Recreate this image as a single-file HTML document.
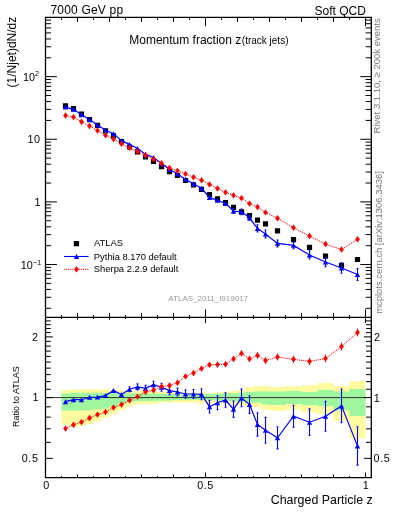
<!DOCTYPE html>
<html><head><meta charset="utf-8"><style>
html,body{margin:0;padding:0;background:#fff;}
svg{display:block;font-family:"Liberation Sans",sans-serif;}
</style></head><body>
<svg width="393" height="512" viewBox="0 0 393 512">
<rect width="393" height="512" fill="#fff"/>
<path d="M61.5 390.2L69.5 390.2L69.5 389.2L77.5 389.2L77.5 389.2L85.5 389.2L85.5 389.2L93.5 389.2L93.5 389.4L101.5 389.4L101.5 389.6L109.5 389.6L109.5 389.8L117.5 389.8L117.5 390.2L125.5 390.2L125.5 390.6L133.5 390.6L133.5 391L141.5 391L141.5 391L149.5 391L149.5 391.5L157.5 391.5L157.5 391.8L165.5 391.8L165.5 392.1L173.5 392.1L173.5 392.5L181.5 392.5L181.5 392.6L189.5 392.6L189.5 392.4L197.5 392.4L197.5 392.2L205.5 392.2L205.5 393L213.5 393L213.5 392.5L221.5 392.5L221.5 391.8L229.5 391.8L229.5 391L237.5 391L237.5 390L245.5 390L245.5 387L253.5 387L253.5 386.2L261.5 386.2L261.5 385.7L269.5 385.7L269.5 387L285.5 387L285.5 386.2L301.5 386.2L301.5 385.3L317.5 385.3L317.5 383L333.5 383L333.5 386L349.5 386L349.5 381.2L365.5 381.2L365.5 438.2L349.5 438.2L349.5 421L333.5 421L333.5 414.2L317.5 414.2L317.5 412.4L301.5 412.4L301.5 409.7L285.5 409.7L285.5 411.1L269.5 411.1L269.5 409.7L261.5 409.7L261.5 407.3L253.5 407.3L253.5 406.5L245.5 406.5L245.5 404.9L237.5 404.9L237.5 404.3L229.5 404.3L229.5 403.8L221.5 403.8L221.5 403.3L213.5 403.3L213.5 402.8L205.5 402.8L205.5 403.5L197.5 403.5L197.5 402.4L189.5 402.4L189.5 402.4L181.5 402.4L181.5 402.4L173.5 402.4L173.5 402.5L165.5 402.5L165.5 402.8L157.5 402.8L157.5 404.1L149.5 404.1L149.5 404.3L141.5 404.3L141.5 404.1L133.5 404.1L133.5 406.4L125.5 406.4L125.5 410.2L117.5 410.2L117.5 414L109.5 414L109.5 417.8L101.5 417.8L101.5 421.2L93.5 421.2L93.5 423.9L85.5 423.9L85.5 426L77.5 426L77.5 426.7L69.5 426.7L69.5 424.9L61.5 424.9Z" fill="#fdfa9f"/>
<path d="M61.5 393.4L69.5 393.4L69.5 392.7L77.5 392.7L77.5 392.7L85.5 392.7L85.5 392.7L93.5 392.7L93.5 392.8L101.5 392.8L101.5 393L109.5 393L109.5 393L117.5 393L117.5 393.2L125.5 393.2L125.5 393.4L133.5 393.4L133.5 393.6L141.5 393.6L141.5 393.8L149.5 393.8L149.5 393.8L157.5 393.8L157.5 394L165.5 394L165.5 394L173.5 394L173.5 394.5L181.5 394.5L181.5 394.6L189.5 394.6L189.5 394.6L197.5 394.6L197.5 394.5L205.5 394.5L205.5 394L213.5 394L213.5 393.8L221.5 393.8L221.5 393.5L229.5 393.5L229.5 393.2L237.5 393.2L237.5 392.8L245.5 392.8L245.5 392L253.5 392L253.5 391.4L261.5 391.4L261.5 391.6L269.5 391.6L269.5 391.6L285.5 391.6L285.5 391L301.5 391L301.5 391.9L317.5 391.9L317.5 390.1L333.5 390.1L333.5 391.4L349.5 391.4L349.5 388.9L365.5 388.9L365.5 416L349.5 416L349.5 410.3L333.5 410.3L333.5 406.2L317.5 406.2L317.5 405.3L301.5 405.3L301.5 403.9L285.5 403.9L285.5 404.9L269.5 404.9L269.5 404.4L261.5 404.4L261.5 402.7L253.5 402.7L253.5 402.5L245.5 402.5L245.5 401.7L237.5 401.7L237.5 401.2L229.5 401.2L229.5 400.8L221.5 400.8L221.5 400.4L213.5 400.4L213.5 400L205.5 400L205.5 399.8L197.5 399.8L197.5 399.8L189.5 399.8L189.5 399.8L181.5 399.8L181.5 400L173.5 400L173.5 400.5L165.5 400.5L165.5 400.7L157.5 400.7L157.5 401L149.5 401L149.5 401.3L141.5 401.3L141.5 401L133.5 401L133.5 402.1L125.5 402.1L125.5 404.1L117.5 404.1L117.5 406.4L109.5 406.4L109.5 408.7L101.5 408.7L101.5 409.3L93.5 409.3L93.5 410.2L85.5 410.2L85.5 410.6L77.5 410.6L77.5 410.6L69.5 410.6L69.5 410.6L61.5 410.6Z" fill="#9ef79e"/>
<line x1="45.5" y1="397.6" x2="365.5" y2="397.6" stroke="#333" stroke-width="1"/>
<path d="M45.5 17.4v8.7M61.5 17.4v2.5M77.5 17.4v4.5M93.5 17.4v2.5M109.5 17.4v4.5M125.5 17.4v2.5M141.5 17.4v4.5M157.5 17.4v2.5M173.5 17.4v4.5M189.5 17.4v2.5M205.5 17.4v8.7M221.5 17.4v2.5M237.5 17.4v4.5M253.5 17.4v2.5M269.5 17.4v4.5M285.5 17.4v2.5M301.5 17.4v4.5M317.5 17.4v2.5M333.5 17.4v4.5M349.5 17.4v2.5M365.5 17.4v8.7M45.5 317.3v-8M61.5 317.3v-2.3M77.5 317.3v-4.2M93.5 317.3v-2.3M109.5 317.3v-4.2M125.5 317.3v-2.3M141.5 317.3v-4.2M157.5 317.3v-2.3M173.5 317.3v-4.2M189.5 317.3v-2.3M205.5 317.3v-8M221.5 317.3v-2.3M237.5 317.3v-4.2M253.5 317.3v-2.3M269.5 317.3v-4.2M285.5 317.3v-2.3M301.5 317.3v-4.2M317.5 317.3v-2.3M333.5 317.3v-4.2M349.5 317.3v-2.3M365.5 317.3v-8M45.5 317.3v5.7M61.5 317.3v1.5M77.5 317.3v2.5M93.5 317.3v1.5M109.5 317.3v2.5M125.5 317.3v1.5M141.5 317.3v2.5M157.5 317.3v1.5M173.5 317.3v2.5M189.5 317.3v1.5M205.5 317.3v5.7M221.5 317.3v1.5M237.5 317.3v2.5M253.5 317.3v1.5M269.5 317.3v2.5M285.5 317.3v1.5M301.5 317.3v2.5M317.5 317.3v1.5M333.5 317.3v2.5M349.5 317.3v1.5M365.5 317.3v5.7M45.5 477.6v-5M61.5 477.6v-1.5M77.5 477.6v-3M93.5 477.6v-1.5M109.5 477.6v-3M125.5 477.6v-1.5M141.5 477.6v-3M157.5 477.6v-1.5M173.5 477.6v-3M189.5 477.6v-1.5M205.5 477.6v-5M221.5 477.6v-1.5M237.5 477.6v-3M253.5 477.6v-1.5M269.5 477.6v-3M285.5 477.6v-1.5M301.5 477.6v-3M317.5 477.6v-1.5M333.5 477.6v-3M349.5 477.6v-1.5M365.5 477.6v-5M45.5 308.31h5.6M45.5 297.28h5.6M45.5 289.45h5.6M45.5 283.38h5.6M45.5 278.42h5.6M45.5 274.23h5.6M45.5 270.6h5.6M45.5 267.4h5.6M45.5 264.53h11.4M45.5 245.68h5.6M45.5 234.65h5.6M45.5 226.82h5.6M45.5 220.75h5.6M45.5 215.79h5.6M45.5 211.6h5.6M45.5 207.97h5.6M45.5 204.77h5.6M45.5 201.9h11.4M45.5 183.05h5.6M45.5 172.02h5.6M45.5 164.19h5.6M45.5 158.12h5.6M45.5 153.16h5.6M45.5 148.97h5.6M45.5 145.34h5.6M45.5 142.14h5.6M45.5 139.27h11.4M45.5 120.42h5.6M45.5 109.39h5.6M45.5 101.56h5.6M45.5 95.49h5.6M45.5 90.53h5.6M45.5 86.34h5.6M45.5 82.71h5.6M45.5 79.51h5.6M45.5 76.64h11.4M45.5 57.79h5.6M45.5 46.76h5.6M45.5 38.93h5.6M45.5 32.86h5.6M45.5 27.9h5.6M45.5 23.71h5.6M45.5 20.08h5.6M371.3 308.31h-5.7M371.3 297.28h-5.7M371.3 289.45h-5.7M371.3 283.38h-5.7M371.3 278.42h-5.7M371.3 274.23h-5.7M371.3 270.6h-5.7M371.3 267.4h-5.7M371.3 264.53h-11M371.3 245.68h-5.7M371.3 234.65h-5.7M371.3 226.82h-5.7M371.3 220.75h-5.7M371.3 215.79h-5.7M371.3 211.6h-5.7M371.3 207.97h-5.7M371.3 204.77h-5.7M371.3 201.9h-11M371.3 183.05h-5.7M371.3 172.02h-5.7M371.3 164.19h-5.7M371.3 158.12h-5.7M371.3 153.16h-5.7M371.3 148.97h-5.7M371.3 145.34h-5.7M371.3 142.14h-5.7M371.3 139.27h-11M371.3 120.42h-5.7M371.3 109.39h-5.7M371.3 101.56h-5.7M371.3 95.49h-5.7M371.3 90.53h-5.7M371.3 86.34h-5.7M371.3 82.71h-5.7M371.3 79.51h-5.7M371.3 76.64h-11M371.3 57.79h-5.7M371.3 46.76h-5.7M371.3 38.93h-5.7M371.3 32.86h-5.7M371.3 27.9h-5.7M371.3 23.71h-5.7M371.3 20.08h-5.7M45.5 458.32h7.4M45.5 442.35h5.3M45.5 428.84h5.3M45.5 417.15h5.3M45.5 406.83h5.3M45.5 397.6h7.4M45.5 389.25h5.3M45.5 381.63h5.3M45.5 374.62h5.3M45.5 368.13h5.3M45.5 362.08h5.3M45.5 356.43h5.3M45.5 351.12h5.3M45.5 346.11h5.3M45.5 341.38h5.3M45.5 336.88h7.4M45.5 332.61h5.3M45.5 328.53h5.3M45.5 324.64h5.3M45.5 320.91h5.3M371.3 458.32h-7.4M371.3 442.35h-5.3M371.3 428.84h-5.3M371.3 417.15h-5.3M371.3 406.83h-5.3M371.3 397.6h-7.4M371.3 389.25h-5.3M371.3 381.63h-5.3M371.3 374.62h-5.3M371.3 368.13h-5.3M371.3 362.08h-5.3M371.3 356.43h-5.3M371.3 351.12h-5.3M371.3 346.11h-5.3M371.3 341.38h-5.3M371.3 336.88h-7.4M371.3 332.61h-5.3M371.3 328.53h-5.3M371.3 324.64h-5.3M371.3 320.91h-5.3" stroke="#000" stroke-width="1" fill="none"/>
<path d="M45.5 17.4H371.3V477.6H45.5Z M45.5 317.3H371.3" stroke="#000" stroke-width="1.3" fill="none"/>
<polyline points="65.5,401.7 73.5,399.7 81.5,399.7 89.5,397.3 97.5,397 105.5,395.6 113.5,390.4 121.5,394.5 129.5,389.2 137.5,386.9 145.5,388.4 153.5,384.7 161.5,387.3 169.5,390.6 177.5,392 185.5,394 193.5,394 201.5,394.3 209.5,406.7 217.5,402.7 225.5,400 233.5,409.2 241.5,397.9 249.5,404.6 257.5,424.4 265.5,430.3 277.5,437.8 293.5,416.2 309.5,422.2 325.5,416.3 341.5,405.9 357.5,445.9" fill="none" stroke="#00f" stroke-width="1.2"/>
<path d="M129.5 386.7V391.7M128.5 386.7h2M128.5 391.7h2M137.5 383.9V389.9M136.5 383.9h2M136.5 389.9h2M145.5 385.4V391.4M144.5 385.4h2M144.5 391.4h2M153.5 381.2V388.2M152.5 381.2h2M152.5 388.2h2M161.5 383.3V391.3M160.5 383.3h2M160.5 391.3h2M169.5 386.6V394.6M168.5 386.6h2M168.5 394.6h2M177.5 388V396M176.5 388h2M176.5 396h2M185.5 389.8V398.2M184.5 389.8h2M184.5 398.2h2M193.5 389.5V398.5M192.5 389.5h2M192.5 398.5h2M201.5 388.8V399.8M200.5 388.8h2M200.5 399.8h2M209.5 400.4V413M208.5 400.4h2M208.5 413h2M217.5 395.7V409.7M216.5 395.7h2M216.5 409.7h2M225.5 392.7V407.3M224.5 392.7h2M224.5 407.3h2M233.5 401V417.4M232.5 401h2M232.5 417.4h2M241.5 389.1V406.7M240.5 389.1h2M240.5 406.7h2M249.5 395.8V413.4M248.5 395.8h2M248.5 413.4h2M257.5 412.7V436.1M256.5 412.7h2M256.5 436.1h2M265.5 417.4V443.2M264.5 417.4h2M264.5 443.2h2M277.5 426.7V448.9M276.5 426.7h2M276.5 448.9h2M293.5 405.3V427.1M292.5 405.3h2M292.5 427.1h2M309.5 408.9V435.5M308.5 408.9h2M308.5 435.5h2M325.5 401.3V431.3M324.5 401.3h2M324.5 431.3h2M341.5 389V422.8M340.5 389h2M340.5 422.8h2M357.5 426.7V465.1M356.5 426.7h2M356.5 465.1h2" stroke="#00f" stroke-width="1.1"/>
<path d="M62.8 404.18L65.5 399.22L68.2 404.18ZM70.8 402.18L73.5 397.22L76.2 402.18ZM78.8 402.18L81.5 397.22L84.2 402.18ZM86.8 399.78L89.5 394.82L92.2 399.78ZM94.8 399.48L97.5 394.52L100.2 399.48ZM102.8 398.08L105.5 393.12L108.2 398.08ZM110.8 392.88L113.5 387.92L116.2 392.88ZM118.8 396.98L121.5 392.02L124.2 396.98ZM126.8 391.68L129.5 386.72L132.2 391.68ZM134.8 389.38L137.5 384.42L140.2 389.38ZM142.8 390.88L145.5 385.92L148.2 390.88ZM150.8 387.18L153.5 382.22L156.2 387.18ZM158.8 389.78L161.5 384.82L164.2 389.78ZM166.8 393.08L169.5 388.12L172.2 393.08ZM174.8 394.48L177.5 389.52L180.2 394.48ZM182.8 396.48L185.5 391.52L188.2 396.48ZM190.8 396.48L193.5 391.52L196.2 396.48ZM198.8 396.78L201.5 391.82L204.2 396.78ZM206.8 409.18L209.5 404.22L212.2 409.18ZM214.8 405.18L217.5 400.22L220.2 405.18ZM222.8 402.48L225.5 397.52L228.2 402.48ZM230.8 411.68L233.5 406.72L236.2 411.68ZM238.8 400.38L241.5 395.42L244.2 400.38ZM246.8 407.08L249.5 402.12L252.2 407.08ZM254.8 426.88L257.5 421.92L260.2 426.88ZM262.8 432.78L265.5 427.82L268.2 432.78ZM274.8 440.28L277.5 435.32L280.2 440.28ZM290.8 418.68L293.5 413.72L296.2 418.68ZM306.8 424.68L309.5 419.72L312.2 424.68ZM322.8 418.78L325.5 413.82L328.2 418.78ZM338.8 408.38L341.5 403.42L344.2 408.38ZM354.8 448.38L357.5 443.42L360.2 448.38Z" fill="#00f"/>
<polyline points="65.5,428.6 73.5,424.7 81.5,422.1 89.5,418 97.5,414.6 105.5,412 113.5,407.6 121.5,404.6 129.5,400.2 137.5,396.6 145.5,391.9 153.5,390.3 161.5,386.6 169.5,385.5 177.5,382.7 185.5,376.4 193.5,373 201.5,368.6 209.5,364.7 217.5,364.6 225.5,364.2 233.5,358.9 241.5,353.4 249.5,358.9 257.5,355.4 265.5,360.5 277.5,357 293.5,359.3 309.5,361.4 325.5,358.4 341.5,346.6 357.5,332.5" fill="none" stroke="#f00" stroke-width="1" stroke-dasharray="1.2,0.9"/>
<path d="M65.5 427.8V429.4M73.5 423.8V425.6M81.5 421.1V423.1M89.5 416.9V419.1M97.5 413.4V415.8M105.5 410.7V413.3M113.5 406.2V409M121.5 403.1V406.1M129.5 398.6V401.8M137.5 394.9V398.3M145.5 390.1V393.7M153.5 388.4V392.2M161.5 384.6V388.6M169.5 383.4V387.6M177.5 380.5V384.9M185.5 374.1V378.7M193.5 370.6V375.4M201.5 366.1V371.1M209.5 362.1V367.3M217.5 361.9V367.3M225.5 361.4V367M233.5 356V361.8M241.5 350.4V356.4M249.5 355.8V362M257.5 352.2V358.6M265.5 357.2V363.8M277.5 353.6V360.4M293.5 355.8V362.8M309.5 357.8V365M325.5 354.7V362.1M341.5 342.8V350.4M357.5 328.6V336.4" stroke="#f00" stroke-width="1"/>
<path d="M65.5 425.4L67.9 428.6L65.5 431.8L63.1 428.6ZM73.5 421.5L75.9 424.7L73.5 427.9L71.1 424.7ZM81.5 418.9L83.9 422.1L81.5 425.3L79.1 422.1ZM89.5 414.8L91.9 418L89.5 421.2L87.1 418ZM97.5 411.4L99.9 414.6L97.5 417.8L95.1 414.6ZM105.5 408.8L107.9 412L105.5 415.2L103.1 412ZM113.5 404.4L115.9 407.6L113.5 410.8L111.1 407.6ZM121.5 401.4L123.9 404.6L121.5 407.8L119.1 404.6ZM129.5 397L131.9 400.2L129.5 403.4L127.1 400.2ZM137.5 393.4L139.9 396.6L137.5 399.8L135.1 396.6ZM145.5 388.7L147.9 391.9L145.5 395.1L143.1 391.9ZM153.5 387.1L155.9 390.3L153.5 393.5L151.1 390.3ZM161.5 383.4L163.9 386.6L161.5 389.8L159.1 386.6ZM169.5 382.3L171.9 385.5L169.5 388.7L167.1 385.5ZM177.5 379.5L179.9 382.7L177.5 385.9L175.1 382.7ZM185.5 373.2L187.9 376.4L185.5 379.6L183.1 376.4ZM193.5 369.8L195.9 373L193.5 376.2L191.1 373ZM201.5 365.4L203.9 368.6L201.5 371.8L199.1 368.6ZM209.5 361.5L211.9 364.7L209.5 367.9L207.1 364.7ZM217.5 361.4L219.9 364.6L217.5 367.8L215.1 364.6ZM225.5 361L227.9 364.2L225.5 367.4L223.1 364.2ZM233.5 355.7L235.9 358.9L233.5 362.1L231.1 358.9ZM241.5 350.2L243.9 353.4L241.5 356.6L239.1 353.4ZM249.5 355.7L251.9 358.9L249.5 362.1L247.1 358.9ZM257.5 352.2L259.9 355.4L257.5 358.6L255.1 355.4ZM265.5 357.3L267.9 360.5L265.5 363.7L263.1 360.5ZM277.5 353.8L279.9 357L277.5 360.2L275.1 357ZM293.5 356.1L295.9 359.3L293.5 362.5L291.1 359.3ZM309.5 358.2L311.9 361.4L309.5 364.6L307.1 361.4ZM325.5 355.2L327.9 358.4L325.5 361.6L323.1 358.4ZM341.5 343.4L343.9 346.6L341.5 349.8L339.1 346.6ZM357.5 329.3L359.9 332.5L357.5 335.7L355.1 332.5Z" fill="#f00"/>
<path d="M62.9 103.2h5.2v5.2h-5.2ZM70.9 106.1h5.2v5.2h-5.2ZM78.9 111.5h5.2v5.2h-5.2ZM86.9 117h5.2v5.2h-5.2ZM94.9 122.7h5.2v5.2h-5.2ZM102.9 128.2h5.2v5.2h-5.2ZM110.9 133.3h5.2v5.2h-5.2ZM118.9 139h5.2v5.2h-5.2ZM126.9 144.4h5.2v5.2h-5.2ZM134.9 149.2h5.2v5.2h-5.2ZM142.9 154.4h5.2v5.2h-5.2ZM150.9 158.9h5.2v5.2h-5.2ZM158.9 164h5.2v5.2h-5.2ZM166.9 169.1h5.2v5.2h-5.2ZM174.9 172.9h5.2v5.2h-5.2ZM182.9 177.9h5.2v5.2h-5.2ZM190.9 182.2h5.2v5.2h-5.2ZM198.9 186.7h5.2v5.2h-5.2ZM206.9 192h5.2v5.2h-5.2ZM214.9 196.2h5.2v5.2h-5.2ZM222.9 200.1h5.2v5.2h-5.2ZM230.9 204.8h5.2v5.2h-5.2ZM238.9 209.2h5.2v5.2h-5.2ZM246.9 213h5.2v5.2h-5.2ZM254.9 217.5h5.2v5.2h-5.2ZM262.9 221.3h5.2v5.2h-5.2ZM274.9 228.3h5.2v5.2h-5.2ZM290.9 237h5.2v5.2h-5.2ZM306.9 244.7h5.2v5.2h-5.2ZM322.9 253.6h5.2v5.2h-5.2ZM338.9 262.8h5.2v5.2h-5.2ZM354.9 256.9h5.2v5.2h-5.2Z" fill="#000"/>
<polyline points="65.5,107.07 73.5,109.35 81.5,114.75 89.5,119.51 97.5,125.11 105.5,130.18 113.5,133.66 121.5,140.64 129.5,144.39 137.5,148.48 145.5,154.14 153.5,157.49 161.5,163.4 169.5,169.53 177.5,173.76 185.5,179.38 193.5,183.68 201.5,188.28 209.5,197.43 217.5,200.38 225.5,203.45 233.5,211 241.5,211.89 249.5,217.77 257.5,228.42 265.5,234.05 277.5,243.38 293.5,245.38 309.5,254.94 325.5,262.01 341.5,267.98 357.5,274.5" fill="none" stroke="#00f" stroke-width="1.2"/>
<path d="M233.5 208.46V213.55M232.5 208.46h2M232.5 213.55h2M241.5 209.16V214.63M240.5 209.16h2M240.5 214.63h2M249.5 215.04V220.51M248.5 215.04h2M248.5 220.51h2M257.5 224.79V232.05M256.5 224.79h2M256.5 232.05h2M265.5 230.05V238.06M264.5 230.05h2M264.5 238.06h2M277.5 239.94V246.83M276.5 239.94h2M276.5 246.83h2M293.5 241.99V248.76M292.5 241.99h2M292.5 248.76h2M309.5 250.81V259.07M308.5 250.81h2M308.5 259.07h2M325.5 257.35V266.66M324.5 257.35h2M324.5 266.66h2M341.5 262.73V273.22M340.5 262.73h2M340.5 273.22h2M357.5 268.54V280.46M356.5 268.54h2M356.5 280.46h2" stroke="#00f" stroke-width="1.1"/>
<path d="M62.8 109.56L65.5 104.59L68.2 109.56ZM70.8 111.84L73.5 106.87L76.2 111.84ZM78.8 117.24L81.5 112.27L84.2 117.24ZM86.8 121.99L89.5 117.02L92.2 121.99ZM94.8 127.6L97.5 122.63L100.2 127.6ZM102.8 132.66L105.5 127.69L108.2 132.66ZM110.8 136.15L113.5 131.18L116.2 136.15ZM118.8 143.12L121.5 138.15L124.2 143.12ZM126.8 146.88L129.5 141.91L132.2 146.88ZM134.8 150.96L137.5 145.99L140.2 150.96ZM142.8 156.63L145.5 151.66L148.2 156.63ZM150.8 159.98L153.5 155.01L156.2 159.98ZM158.8 165.89L161.5 160.92L164.2 165.89ZM166.8 172.01L169.5 167.04L172.2 172.01ZM174.8 176.25L177.5 171.28L180.2 176.25ZM182.8 181.87L185.5 176.9L188.2 181.87ZM190.8 186.17L193.5 181.2L196.2 186.17ZM198.8 190.76L201.5 185.79L204.2 190.76ZM206.8 199.91L209.5 194.94L212.2 199.91ZM214.8 202.87L217.5 197.9L220.2 202.87ZM222.8 205.93L225.5 200.96L228.2 205.93ZM230.8 213.49L233.5 208.52L236.2 213.49ZM238.8 214.38L241.5 209.41L244.2 214.38ZM246.8 220.26L249.5 215.29L252.2 220.26ZM254.8 230.91L257.5 225.94L260.2 230.91ZM262.8 236.54L265.5 231.57L268.2 236.54ZM274.8 245.87L277.5 240.9L280.2 245.87ZM290.8 247.86L293.5 242.89L296.2 247.86ZM306.8 257.42L309.5 252.45L312.2 257.42ZM322.8 264.49L325.5 259.52L328.2 264.49ZM338.8 270.46L341.5 265.49L344.2 270.46ZM354.8 276.98L357.5 272.01L360.2 276.98Z" fill="#00f"/>
<polyline points="65.5,115.43 73.5,117.11 81.5,121.71 89.5,125.93 97.5,130.58 105.5,135.27 113.5,139.01 121.5,143.77 129.5,147.81 137.5,151.49 145.5,155.23 153.5,159.23 161.5,163.18 169.5,167.94 177.5,170.87 185.5,173.92 193.5,177.16 201.5,180.3 209.5,184.38 217.5,188.55 225.5,192.33 233.5,195.38 241.5,198.08 249.5,203.58 257.5,207 265.5,212.38 277.5,218.29 293.5,227.71 309.5,236.06 325.5,244.03 341.5,249.56 357.5,239.29" fill="none" stroke="#f00" stroke-width="1" stroke-dasharray="1.2,0.9"/>
<path d="M65.5 112.23L67.9 115.43L65.5 118.63L63.1 115.43ZM73.5 113.91L75.9 117.11L73.5 120.31L71.1 117.11ZM81.5 118.51L83.9 121.71L81.5 124.91L79.1 121.71ZM89.5 122.73L91.9 125.93L89.5 129.13L87.1 125.93ZM97.5 127.38L99.9 130.58L97.5 133.78L95.1 130.58ZM105.5 132.07L107.9 135.27L105.5 138.47L103.1 135.27ZM113.5 135.81L115.9 139.01L113.5 142.21L111.1 139.01ZM121.5 140.57L123.9 143.77L121.5 146.97L119.1 143.77ZM129.5 144.61L131.9 147.81L129.5 151.01L127.1 147.81ZM137.5 148.29L139.9 151.49L137.5 154.69L135.1 151.49ZM145.5 152.03L147.9 155.23L145.5 158.43L143.1 155.23ZM153.5 156.03L155.9 159.23L153.5 162.43L151.1 159.23ZM161.5 159.98L163.9 163.18L161.5 166.38L159.1 163.18ZM169.5 164.74L171.9 167.94L169.5 171.14L167.1 167.94ZM177.5 167.67L179.9 170.87L177.5 174.07L175.1 170.87ZM185.5 170.72L187.9 173.92L185.5 177.12L183.1 173.92ZM193.5 173.96L195.9 177.16L193.5 180.36L191.1 177.16ZM201.5 177.1L203.9 180.3L201.5 183.5L199.1 180.3ZM209.5 181.18L211.9 184.38L209.5 187.58L207.1 184.38ZM217.5 185.35L219.9 188.55L217.5 191.75L215.1 188.55ZM225.5 189.13L227.9 192.33L225.5 195.53L223.1 192.33ZM233.5 192.18L235.9 195.38L233.5 198.58L231.1 195.38ZM241.5 194.88L243.9 198.08L241.5 201.28L239.1 198.08ZM249.5 200.38L251.9 203.58L249.5 206.78L247.1 203.58ZM257.5 203.8L259.9 207L257.5 210.2L255.1 207ZM265.5 209.18L267.9 212.38L265.5 215.58L263.1 212.38ZM277.5 215.09L279.9 218.29L277.5 221.49L275.1 218.29ZM293.5 224.51L295.9 227.71L293.5 230.91L291.1 227.71ZM309.5 232.86L311.9 236.06L309.5 239.26L307.1 236.06ZM325.5 240.83L327.9 244.03L325.5 247.23L323.1 244.03ZM341.5 246.36L343.9 249.56L341.5 252.76L339.1 249.56ZM357.5 236.09L359.9 239.29L357.5 242.49L355.1 239.29Z" fill="#f00"/>
<rect x="73.8" y="241" width="5.3" height="5.3" fill="#000"/>
<line x1="64" y1="256.5" x2="88.6" y2="256.5" stroke="#00f" stroke-width="1.1"/>
<path d="M73.8 258.98L76.5 254.02L79.2 258.98Z" fill="#00f"/>
<line x1="64" y1="269.3" x2="88.6" y2="269.3" stroke="#f00" stroke-width="1" stroke-dasharray="1.2,0.9"/>
<path d="M76.5 266.2L78.9 269.4L76.5 272.6L74.1 269.4Z" fill="#f00"/>
<g style="will-change:transform">
<text x="50.45" y="13.90" font-size="12" letter-spacing="0.2">7000 GeV pp</text>
<text x="365.90" y="14.60" font-size="12" text-anchor="end">Soft QCD</text>
<text x="129.25" y="43.80" font-size="12">Momentum fraction z</text>
<text x="241.80" y="43.70" font-size="10">(track jets)</text>
<text transform="translate(16.00,87.40) rotate(-90)" font-size="12">(1/Njet)dN/dz</text>
<text transform="translate(18.50,427.05) rotate(-90)" font-size="9">Ratio to ATLAS</text>
<text transform="translate(379.80,133.40) rotate(-90)" font-size="9.5" fill="#777">Rivet 3.1.10, ≥ 200k events</text>
<text transform="translate(381.50,313.85) rotate(-90)" font-size="9.45" fill="#777">mcplots.cern.ch [arXiv:1306.3436]</text>
<text x="94.05" y="246.20" font-size="9.4">ATLAS</text>
<text x="93.85" y="259.70" font-size="9.4">Pythia 8.170 default</text>
<text x="93.85" y="271.70" font-size="9.4">Sherpa 2.2.9 default</text>
<text x="168.30" y="300.80" font-size="8" fill="#999">ATLAS_2011_I919017</text>
<text x="372.70" y="503.50" font-size="12.4" text-anchor="end">Charged Particle z</text>
<text x="39.15" y="81.10" font-size="10.8" text-anchor="end">10<tspan font-size="7.3" dy="-5">2</tspan></text>
<text x="40.60" y="143.20" font-size="10.8" text-anchor="end" letter-spacing="0.5">10</text>
<text x="40.50" y="205.80" font-size="10.8" text-anchor="end">1</text>
<text x="41.25" y="269.30" font-size="10.8" text-anchor="end">10<tspan font-size="7.5" dy="-4">−1</tspan></text>
<text x="37.95" y="340.80" font-size="10.8" text-anchor="end">2</text>
<text x="38.55" y="401.30" font-size="10.8" text-anchor="end">1</text>
<text x="38.50" y="461.50" font-size="10.8" text-anchor="end" letter-spacing="0.6">0.5</text>
<text x="374.10" y="340.60" font-size="10.8">2</text>
<text x="373.70" y="402.30" font-size="10.8">1</text>
<text x="373.60" y="461.50" font-size="10.8" letter-spacing="0.6">0.5</text>
<text x="46.35" y="488.70" font-size="10.8" text-anchor="middle">0</text>
<text x="205.55" y="489.00" font-size="10.8" text-anchor="middle" letter-spacing="0.6">0.5</text>
<text x="365.65" y="489.00" font-size="10.8" text-anchor="middle">1</text>
</g>
</svg>
</body></html>
